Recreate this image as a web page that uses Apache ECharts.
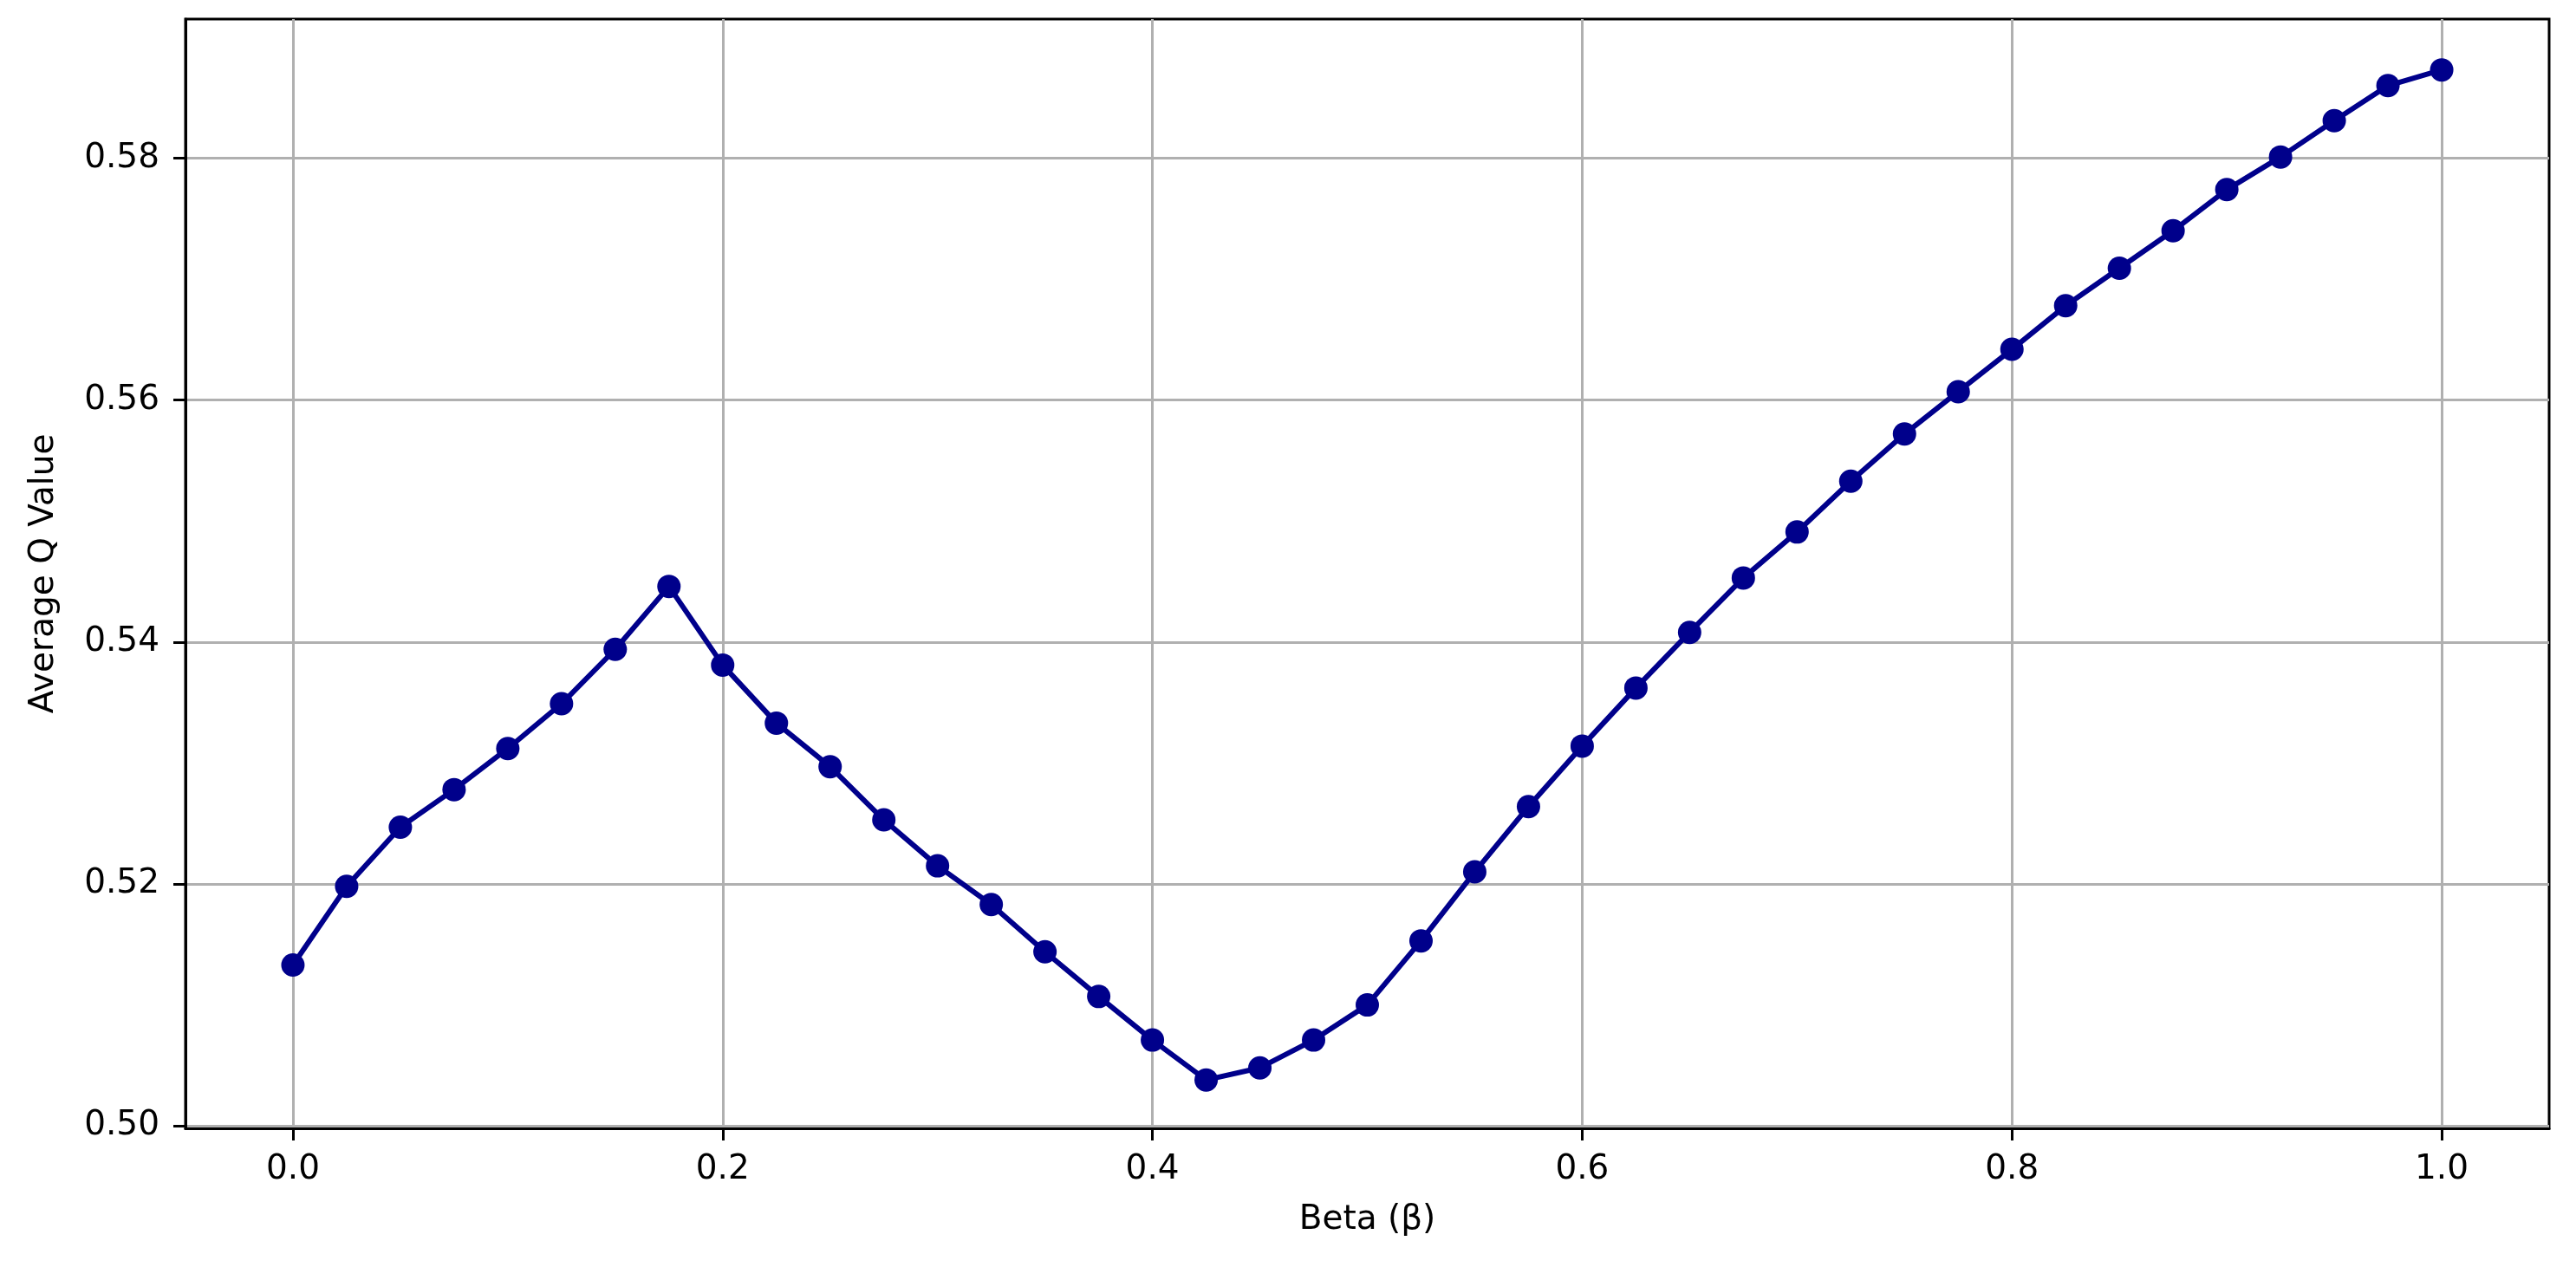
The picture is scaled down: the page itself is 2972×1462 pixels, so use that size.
<!DOCTYPE html>
<html>
<head>
<meta charset="utf-8">
<script src="https://cdn.jsdelivr.net/npm/echarts@6/dist/echarts.min.js"></script>
<style>
html,body{margin:0;padding:0;background:#fff;}
#chart{width:2972px;height:1462px;}
</style>
</head>
<body>
<div id="chart"></div>
<script>
const betaValues = [0.000,0.025,0.050,0.075,0.100,0.125,0.150,0.175,0.200,0.225,
  0.250,0.275,0.300,0.325,0.350,0.375,0.400,0.425,0.450,0.475,
  0.500,0.525,0.550,0.575,0.600,0.625,0.650,0.675,0.700,0.725,
  0.750,0.775,0.800,0.825,0.850,0.875,0.900,0.925,0.950,0.975,1.000];
const qValues = [0.5133,0.5198,0.5247,0.5278,0.5312,0.5349,0.5394,0.5446,0.5381,0.5333,
  0.5297,0.5253,0.5215,0.5183,0.5144,0.5107,0.5071,0.5038,0.5048,0.5071,
  0.5100,0.5153,0.5210,0.5264,0.5314,0.5362,0.5408,0.5453,0.5491,0.5533,
  0.5572,0.5607,0.5642,0.5678,0.5709,0.5740,0.5774,0.5801,0.5831,0.5860,0.5873];
const xTickValues = [0.0,0.2,0.4,0.6,0.8,1.0];
const yTickValues = [0.50,0.52,0.54,0.56,0.58];
const xAxisTitle = 'Beta (β)';
const yAxisTitle = 'Average Q Value';

const seriesData = betaValues.map((b, i) => [b, qValues[i]]);
const FONT = 'DejaVu Sans';
const chart = echarts.init(document.getElementById('chart'), null, {renderer: 'canvas'});
chart.setOption({
  animation: false,
  backgroundColor: '#ffffff',
  grid: {left: 214, right: 31, top: 22, bottom: 160, show: true, borderColor: '#000', borderWidth: 3, backgroundColor: 'transparent'},
  xAxis: {
    type: 'value', min: -0.05, max: 1.05,
    name: xAxisTitle, nameLocation: 'middle', nameGap: 86,
    nameTextStyle: {fontFamily: FONT, fontSize: 39, color: '#000'},
    axisLine: {show: true, onZero: false, lineStyle: {color: '#000', width: 3}},
    axisTick: {show: true, length: 14, lineStyle: {color: '#000', width: 3}, customValues: xTickValues},
    axisLabel: {customValues: xTickValues, margin: 28, fontFamily: FONT, fontSize: 39, color: '#000',
      formatter: v => Number(v).toFixed(1)},
    splitLine: {show: true, lineStyle: {color: '#b0b0b0', width: 3}}
  },
  yAxis: {
    type: 'value', min: 0.4998, max: 0.5915,
    name: yAxisTitle, nameLocation: 'middle', nameGap: 144,
    nameTextStyle: {fontFamily: FONT, fontSize: 39, color: '#000'},
    axisLine: {show: true, onZero: false, lineStyle: {color: '#000', width: 3}},
    axisTick: {show: true, length: 14, lineStyle: {color: '#000', width: 3}, customValues: yTickValues},
    axisLabel: {customValues: yTickValues, margin: 30, fontFamily: FONT, fontSize: 39, color: '#000',
      formatter: v => Number(v).toFixed(2)},
    splitLine: {show: true, lineStyle: {color: '#b0b0b0', width: 3}}
  },
  series: [{
    type: 'line',
    data: seriesData,
    symbol: 'circle',
    symbolSize: 27,
    showAllSymbol: true,
    lineStyle: {color: '#00008b', width: 6},
    itemStyle: {color: '#00008b', borderWidth: 0},
    z: 5
  }]
});
</script>
</body>
</html>
